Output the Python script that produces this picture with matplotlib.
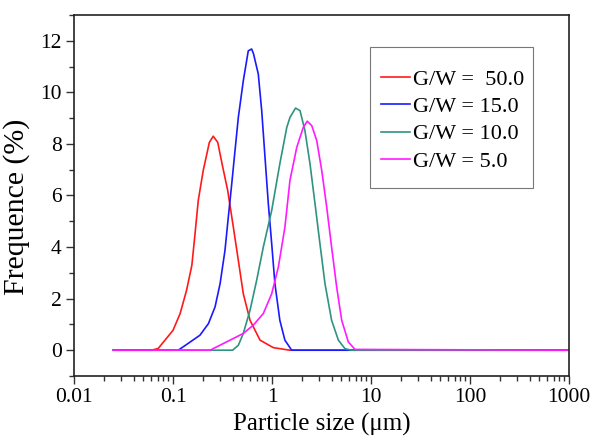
import matplotlib
matplotlib.use("Agg")
import matplotlib.pyplot as plt
from matplotlib.patches import Rectangle
from matplotlib.ticker import LogLocator, MultipleLocator, NullFormatter

plt.rcParams['font.family'] = ['Liberation Serif', 'DejaVu Serif']

# Particle size (um) and frequency (%) for each G/W ratio
x_gw50 = [0.025, 0.061, 0.071, 0.10, 0.118, 0.137, 0.155, 0.167, 0.18, 0.202, 0.233, 0.255,
          0.283, 0.318, 0.357, 0.407, 0.457, 0.513, 0.60, 0.757, 1.03, 1.51, 1000]
y_gw50 = [0.0, 0.0, 0.07, 0.77, 1.42, 2.32, 3.29, 4.52, 5.81, 6.97, 8.06, 8.30,
          8.06, 7.10, 6.19, 4.77, 3.48, 2.19, 1.16, 0.39, 0.10, 0.0, 0.0]

x_gw15 = [0.025, 0.113, 0.137, 0.187, 0.228, 0.266, 0.299, 0.335, 0.362, 0.392, 0.423, 0.457,
          0.513, 0.576, 0.623, 0.65, 0.727, 0.787, 0.85, 0.918, 0.993, 1.07, 1.20, 1.35, 1.58, 1000]
y_gw15 = [0.0, 0.0, 0.22, 0.58, 1.03, 1.68, 2.58, 3.87, 5.16, 6.45, 7.74, 9.03,
          10.45, 11.61, 11.68, 11.5, 10.71, 9.29, 7.48, 5.68, 4.13, 2.58, 1.16, 0.39, 0.0, 0.0]

x_gw10 = [0.025, 0.40, 0.457, 0.513, 0.60, 0.70, 0.817, 0.993, 1.20, 1.41, 1.52, 1.73,
          1.92, 2.15, 2.42, 2.72, 3.05, 3.43, 4.0, 4.68, 5.46, 6.3, 1000]
y_gw10 = [0.0, 0.0, 0.19, 0.65, 1.55, 2.71, 4.0, 5.42, 7.23, 8.64, 9.03, 9.39,
          9.29, 8.52, 7.23, 5.68, 4.13, 2.58, 1.16, 0.39, 0.06, 0.0, 0.0]

x_gw5 = [0.025, 0.237, 0.377, 0.513, 0.647, 0.817, 0.993, 1.16, 1.35, 1.52, 1.78, 2.07,
         2.27, 2.52, 2.83, 3.18, 3.57, 4.0, 4.5, 5.06, 5.9, 6.9, 1000]
y_gw5 = [0.0, 0.0, 0.39, 0.65, 0.97, 1.42, 2.19, 3.23, 4.77, 6.6, 7.87, 8.64,
         8.88, 8.71, 8.13, 6.97, 5.55, 4.0, 2.45, 1.16, 0.32, 0.03, 0.0]

labels = ['G/W =  50.0', 'G/W = 15.0', 'G/W = 10.0', 'G/W = 5.0']
colors = ['#ff1a1a', '#1a1aff', '#2e9480', '#ff1aff']

x_ticks = [0.01, 0.1, 1, 10, 100, 1000]
x_ticklabels = ['0.01', '0.1', '1', '10', '100', '1000']
y_ticks = [0, 2, 4, 6, 8, 10, 12]

fig = plt.figure(figsize=(5.93, 4.38), dpi=100)
ax = fig.add_axes([0.1248, 0.1416, 0.8347, 0.8242])

series = [(x_gw50, y_gw50), (x_gw15, y_gw15), (x_gw10, y_gw10), (x_gw5, y_gw5)]
for (xs, ys), lab, col in zip(series, labels, colors):
    ax.plot(xs, ys, color=col, lw=1.2, label=lab)

ax.set_xscale('log')
ax.set_xlim(0.01, 1000)
ax.set_ylim(-1, 13)
ax.set_xticks(x_ticks)
ax.set_xticklabels(x_ticklabels)
ax.xaxis.set_minor_locator(LogLocator(base=10, subs=range(2, 10), numticks=20))
ax.xaxis.set_minor_formatter(NullFormatter())
ax.set_yticks(y_ticks)
ax.yaxis.set_minor_locator(MultipleLocator(1))

ax.tick_params(which='major', direction='out', length=6, width=1.0, labelsize=15.5,
               top=False, right=False, pad=3, color='#333333')
ax.tick_params(which='minor', direction='out', length=3.5, width=1.0,
               top=False, right=False, color='#333333')
for s in ax.spines.values():
    s.set_linewidth(1.2)
    s.set_color('#222222')

ax.set_xlabel('Particle size (\u03bcm)', fontsize=18, labelpad=4)
ax.set_ylabel('Frequence (%)', fontsize=21.5)
ax.yaxis.set_label_coords(-0.088, 0.468)

# legend frame drawn separately for asymmetric padding
fig.patches.append(Rectangle((0.624, 0.5708), 0.2749, 0.3219, transform=fig.transFigure,
                             fill=False, edgecolor='#777777', linewidth=0.8, zorder=5))
leg = fig.legend(*ax.get_legend_handles_labels(), loc='upper left',
                 bbox_to_anchor=(381 / 593, 1 - 69 / 438), fontsize=16,
                 frameon=False, handlelength=1.3, handletextpad=0.15, labelspacing=0.31,
                 borderpad=0, borderaxespad=0)

fig.savefig('out.png', dpi=100)
